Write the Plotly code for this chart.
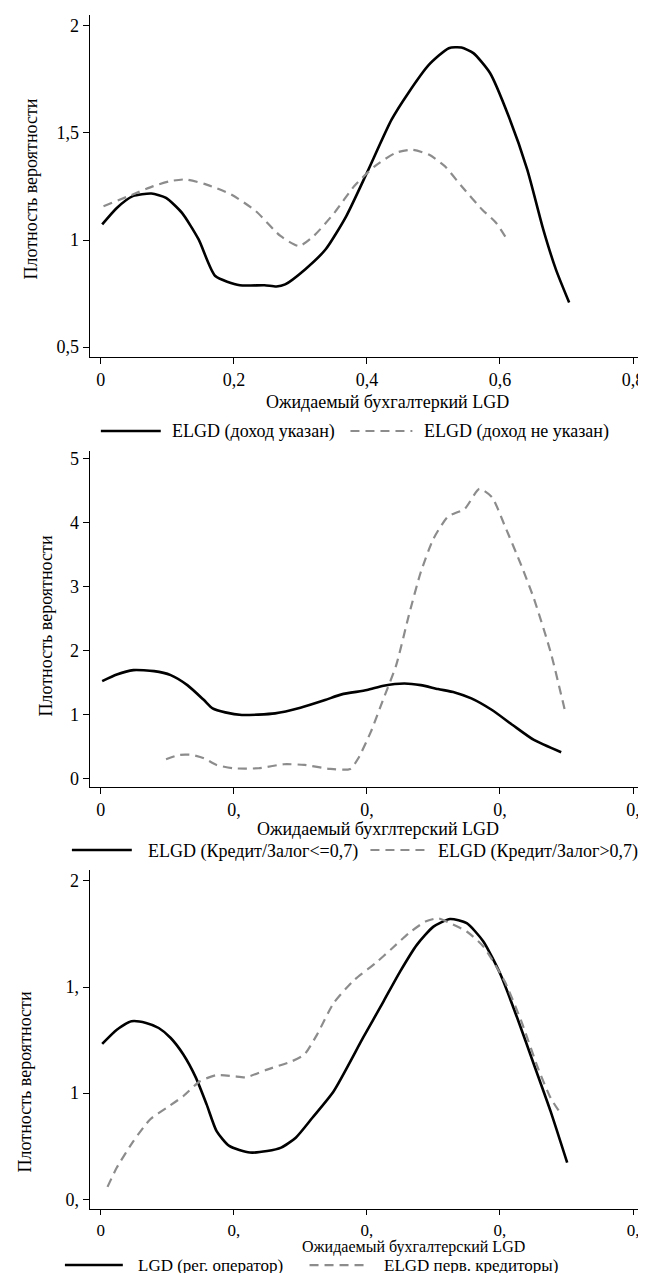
import plotly.graph_objects as go

W, H = 646, 1273

# ---------------- data ----------------
# Panel 1
p1_solid_x = [0.002, 0.024, 0.048, 0.076, 0.098, 0.122, 0.147, 0.172, 0.209, 0.246, 0.264, 0.277, 0.307,
              0.338, 0.369, 0.400, 0.437, 0.462, 0.493, 0.523, 0.542, 0.560, 0.585, 0.613, 0.641, 0.665, 0.684, 0.704]
p1_solid_y = [1.073, 1.150, 1.205, 1.217, 1.197, 1.127, 1.003, 0.832, 0.789, 0.789, 0.783, 0.793, 0.863,
              0.957, 1.112, 1.314, 1.562, 1.686, 1.818, 1.896, 1.899, 1.873, 1.780, 1.578, 1.329, 1.050, 0.863, 0.708]
p1_dash_x = [0.004, 0.048, 0.079, 0.104, 0.128, 0.159, 0.196, 0.233, 0.270, 0.298, 0.320, 0.351, 0.381,
             0.412, 0.443, 0.468, 0.493, 0.517, 0.542, 0.573, 0.594, 0.610]
p1_dash_y = [1.158, 1.213, 1.252, 1.275, 1.283, 1.259, 1.213, 1.135, 1.019, 0.972, 1.019, 1.127, 1.252,
             1.345, 1.407, 1.422, 1.399, 1.345, 1.252, 1.143, 1.081, 1.006]

# Panel 2
p2_solid_x = [0.002, 0.024, 0.049, 0.080, 0.105, 0.130, 0.155, 0.168, 0.187, 0.212, 0.262, 0.300, 0.337,
              0.362, 0.400, 0.425, 0.456, 0.481, 0.507, 0.532, 0.557, 0.588, 0.619, 0.651, 0.692]
p2_solid_y = [1.521, 1.625, 1.693, 1.677, 1.615, 1.458, 1.224, 1.094, 1.031, 0.990, 1.016, 1.104, 1.224,
              1.313, 1.380, 1.448, 1.484, 1.458, 1.396, 1.344, 1.250, 1.068, 0.833, 0.599, 0.406]
p2_dash_x = [0.098, 0.118, 0.137, 0.155, 0.174, 0.199, 0.237, 0.275, 0.306, 0.344, 0.375, 0.387, 0.406,
             0.425, 0.444, 0.463, 0.481, 0.500, 0.522, 0.547, 0.569, 0.588, 0.607, 0.632, 0.651, 0.676, 0.698]
p2_dash_y = [0.297, 0.365, 0.365, 0.313, 0.208, 0.156, 0.156, 0.219, 0.208, 0.146, 0.146, 0.313, 0.729,
             1.250, 1.771, 2.552, 3.229, 3.750, 4.099, 4.219, 4.531, 4.401, 3.958, 3.333, 2.813, 1.979, 1.042]

# Panel 3
p3_solid_x = [0.002, 0.024, 0.046, 0.068, 0.087, 0.105, 0.124, 0.143, 0.159, 0.174, 0.193, 0.224, 0.250,
              0.271, 0.293, 0.318, 0.350, 0.394, 0.425, 0.450, 0.475, 0.500, 0.525, 0.550, 0.575, 0.601,
              0.626, 0.651, 0.676, 0.701]
p3_solid_y = [1.232, 1.299, 1.339, 1.331, 1.307, 1.260, 1.182, 1.072, 0.947, 0.821, 0.751, 0.720, 0.727,
              0.743, 0.790, 0.884, 1.009, 1.260, 1.433, 1.574, 1.699, 1.785, 1.821, 1.801, 1.715, 1.558,
              1.354, 1.135, 0.915, 0.672]
p3_dash_x = [0.010, 0.024, 0.049, 0.074, 0.099, 0.124, 0.149, 0.174, 0.199, 0.218, 0.250, 0.287, 0.306,
             0.325, 0.350, 0.381, 0.413, 0.438, 0.463, 0.488, 0.507, 0.525, 0.550, 0.575, 0.607, 0.632,
             0.657, 0.676, 0.692]
p3_dash_y = [0.558, 0.649, 0.774, 0.876, 0.931, 0.986, 1.056, 1.085, 1.080, 1.075, 1.111, 1.150, 1.182,
             1.276, 1.425, 1.534, 1.613, 1.683, 1.754, 1.809, 1.824, 1.801, 1.762, 1.691, 1.527, 1.339,
             1.119, 0.978, 0.900]

x_tickvals = [0, 0.2, 0.4, 0.6, 0.8]
p1_x_ticktext = ["0", "0,2", "0,4", "0,6", "0,8"]
p23_x_ticktext = ["0", "0,", "0,", "0,", "0,"]
p1_y_tickvals = [0.5, 1, 1.5, 2]
p1_y_ticktext = ["0,5", "1", "1,5", "2"]
p2_y_tickvals = [0, 1, 2, 3, 4, 5]
p2_y_ticktext = ["0", "1", "2", "3", "4", "5"]
p3_y_tickvals = [0.5, 1, 1.5, 2]
p3_y_ticktext = ["0,", "1", "1,", "2"]

x_title_1 = "Ожидаемый бухгалтеркий LGD"
x_title_2 = "Ожидаемый бухглтерский LGD"
x_title_3 = "Ожидаемый бухгалтерский LGD"
y_title = "Плотность вероятности"
leg1 = ["ELGD (доход указан)", "ELGD (доход не указан)"]
leg2 = ["ELGD (Кредит/Залог<=0,7)", "ELGD (Кредит/Залог>0,7)"]
leg3 = ["LGD (рег. оператор)", "ELGD перв. кредиторы)"]

# ---------------- styling ----------------
FONT = "Liberation Serif"
FS = 18
SOLID = dict(color="black", width=2.6)
DASH = dict(color="#8c8c8c", width=2.2, dash="9px,6px")


def px(x):
    return x / W


def py(y):
    return 1 - y / H


fig = go.Figure()
panels = [
    (p1_solid_x, p1_solid_y, p1_dash_x, p1_dash_y, "x", "y"),
    (p2_solid_x, p2_solid_y, p2_dash_x, p2_dash_y, "x2", "y2"),
    (p3_solid_x, p3_solid_y, p3_dash_x, p3_dash_y, "x3", "y3"),
]
for sx, sy, dx, dy, xa, ya in panels:
    fig.add_trace(go.Scatter(x=sx, y=sy, mode="lines", line=dict(**SOLID, shape="spline", smoothing=0.6),
                             xaxis=xa, yaxis=ya, showlegend=False))
    fig.add_trace(go.Scatter(x=dx, y=dy, mode="lines", line=dict(**DASH, shape="spline", smoothing=0.6),
                             xaxis=xa, yaxis=ya, showlegend=False))

axis_common = dict(showline=True, linecolor="black", linewidth=1.3, ticks="outside", ticklen=6,
                   tickcolor="black", tickwidth=1.2, showgrid=False, zeroline=False,
                   tickfont=dict(family=FONT, size=FS, color="black"))

XR = [-0.0165, 0.815]
# panel geometry in pixels: (left, right, top, bottom, xrange, yrange)
geo = [
    (82, 636, 5, 348, XR, [0.453, 2.051]),
    (82, 636, 442, 779, XR, [-0.14, 5.125]),
    (82, 636, 862, 1202, XR, [0.453, 2.052]),
]
yticks = [(p1_y_tickvals, p1_y_ticktext), (p2_y_tickvals, p2_y_ticktext), (p3_y_tickvals, p3_y_ticktext)]
xtt = [p1_x_ticktext, p23_x_ticktext, p23_x_ticktext]

layout = dict(width=W, height=H, margin=dict(l=0, r=0, t=0, b=0), paper_bgcolor="white",
              plot_bgcolor="white", showlegend=False, font=dict(family=FONT, size=FS, color="black"))
for i, (l, r, t, b, xr, yr) in enumerate(geo):
    sfx = "" if i == 0 else str(i + 1)
    xa = dict(axis_common, domain=[px(l), px(r)], range=xr, anchor="y" + sfx,
              tickvals=x_tickvals, ticktext=xtt[i])
    if i == 2:
        xa["ticklen"] = 5
        xa["tickfont"] = dict(family=FONT, size=17, color="black")
    layout["xaxis" + sfx] = xa
    layout["yaxis" + sfx] = dict(axis_common, domain=[py(b), py(t)], range=yr, anchor="x" + sfx,
                                 tickvals=yticks[i][0], ticktext=yticks[i][1])
fig.update_layout(**layout)

annotations = []
shapes = []


def text(x, y, s, xanchor="center", angle=0, size=FS):
    annotations.append(dict(x=px(x), y=py(y), xref="paper", yref="paper", text=s, showarrow=False,
                            xanchor=xanchor, yanchor="middle", textangle=angle,
                            font=dict(family=FONT, size=size, color="black")))


def seg(x0, x1, y, style):
    line = dict(color=style["color"], width=style["width"])
    if "dash" in style:
        line["dash"] = style["dash"]
    shapes.append(dict(type="line", xref="paper", yref="paper", x0=px(x0), x1=px(x1), y0=py(y), y1=py(y),
                       line=line))


# axis titles
text(380, 393, x_title_1)
text(371, 821, x_title_2)
text(406, 1240, x_title_3, size=16)
text(23, 179, y_title, angle=-90)
text(38, 617, y_title, angle=-90)
text(17, 1074, y_title, angle=-90)

# legends
seg(93, 153, 422, SOLID); text(162, 422, leg1[0], "left")
seg(343, 405, 422, DASH); text(415, 422, leg1[1], "left")
seg(64, 124, 842, SOLID); text(138, 843, leg2[0], "left")
seg(363, 422, 842, DASH); text(429, 843, leg2[1], "left")
seg(57, 115, 1258, SOLID); text(128, 1258, leg3[0], "left", size=17)
seg(302, 360, 1258, DASH); text(375, 1258, leg3[1], "left", size=17)

fig.update_layout(annotations=annotations, shapes=shapes)
fig.write_html("out.html")
